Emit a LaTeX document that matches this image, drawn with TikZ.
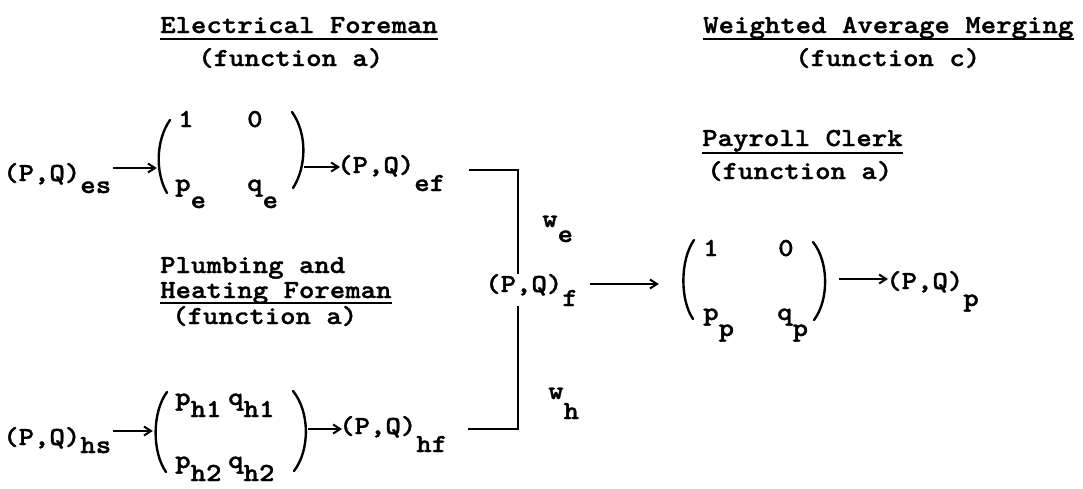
\documentclass[tikz,border=0pt]{standalone}
\usepackage{fontspec}
\newfontfamily\tw{lmmonolt10-bold.otf}[FakeStretch=1.13,FakeBold=1.2]
\usetikzlibrary{arrows.meta}
\newcommand\lw[2]{\raisebox{-#1pt}{#2}}
\begin{document}
\begin{tikzpicture}[x=1pt,y=-1pt,
  txt/.style={inner sep=0pt, anchor=base west, font=\fontsize{26}{25}\tw},
  mbox/.style={inner sep=0pt, draw=none},
  paren/.style={line width=2.4pt, line cap=round},
  link/.style={line width=2.2pt},
  uline/.style={line width=2pt},
  arr/.style={line width=2pt, -{Straight Barb[length=7pt,width=9pt]}}]
\useasboundingbox (0,0) rectangle (1083,488);
\fill[white] (0,0) rectangle (1083,488);

% titles
\node[txt] (t1) at (160,33) {Electrical Foreman};
\draw[uline] ([yshift=-6pt]t1.base west) -- ([yshift=-6pt]t1.base east);
\node[txt] (t1f) at (198,66) {(function a)};
\node[txt] (t3) at (703,33) {Weighted Average Merging};
\draw[uline] ([yshift=-6pt]t3.base west) -- ([yshift=-6pt]t3.base east);
\node[txt] (t3f) at (795,66) {(function c)};
\node[txt] (t4) at (702,146) {Payroll Clerk};
\draw[uline] ([yshift=-7pt]t4.base west) -- ([yshift=-7pt]t4.base east);
\node[txt] (t4f) at (707,179) {(function a)};
\node[txt] (t2a) at (160,273) {Plumbing and};
\node[txt] (t2b) at (160,298) {Heating Foreman};
\draw[uline] ([yshift=-5pt]t2b.base west) -- ([yshift=-5pt]t2b.base east);
\node[txt] (t2f) at (172,324) {(function a)};

% electrical row
\node[txt] (es) at (3,181) {(P,Q)\lw{12}{es}};
\node[mbox, minimum width=147pt, minimum height=83pt] (m1) at (230.5,151.5) {};
\draw[paren] (170,120) .. controls (156,140) and (155,172) .. (167,193);
\draw[paren] (292,112) .. controls (307,133) and (307,166) .. (293,188);
\node[txt] (m1a) at (178,127) {1};
\node[txt] (m1b) at (247,127) {0};
\node[txt] (m1c) at (175,191) {p\lw{17}{e}};
\node[txt] (m1d) at (247,191) {q\lw{17}{e}};
\draw[arr] ([xshift=2pt]es.east |- 0,168) -- (m1.west |- 0,168);
\node[txt] (ef) at (337,173) {(P,Q)\lw{18}{ef}};
\draw[arr] (m1.east |- 0,167) -- ([xshift=3pt]ef.west |- 0,167);

% heating row
\node[txt] (hs) at (3,445) {(P,Q)\lw{8}{hs}};
\node[mbox, minimum width=155pt, minimum height=81pt] (m2) at (230.5,431.5) {};
\draw[paren] (167,392) .. controls (152,412) and (152,452) .. (166,472);
\draw[paren] (293,391) .. controls (310,412) and (310,450) .. (294,471);
\node[txt] (m2a) at (175,405) {p\lw{12}{h1}};
\node[txt] (m2b) at (228,405) {q\lw{12}{h1}};
\node[txt] (m2c) at (175,468) {p\lw{13}{h2}};
\node[txt] (m2d) at (228,468) {q\lw{13}{h2}};
\draw[arr] ([xshift=2pt]hs.east |- 0,431) -- (m2.west |- 0,431);
\node[txt] (hf) at (339,434) {(P,Q)\lw{18}{hf}};
\draw[arr] (m2.east |- 0,429) -- ([xshift=3pt]hf.west |- 0,429);

% merging bracket
\coordinate (efo) at (469,170);
\coordinate (hfo) at (468,429);
\coordinate (ce) at (518,170);
\coordinate (ch) at (518,429);
\draw[link] (efo) -- (ce) -- (ch) -- (hfo);
\node[txt, fill=white] (fF) at (485,292) {(P,Q)\lw{14}{f}};
\node[txt] (we) at (542,227) {w\lw{15}{e}};
\node[txt] (wh) at (548,399) {w\lw{20}{h}};

% payroll
\node[mbox, minimum width=145pt, minimum height=80pt] (m3) at (754.5,280) {};
\draw[paren] (694,240) .. controls (680,260) and (680,300) .. (693,319);
\draw[paren] (813,242) .. controls (829,262) and (829,300) .. (814,320);
\node[txt] (m3a) at (703,256) {1};
\node[txt] (m3b) at (778,256) {0};
\node[txt] (m3c) at (703,320) {p\lw{16}{p}};
\node[txt] (m3d) at (777,320) {q\lw{16}{p}};
\draw[arr] ([xshift=12pt]fF.east |- 0,284) -- ([xshift=-23pt]m3.west |- 0,284);
\node[txt] (pp) at (886,289) {(P,Q)\lw{17}{p}};
\draw[arr] ([xshift=12pt]m3.east |- 0,279) -- ([xshift=2pt]pp.west |- 0,279);
\end{tikzpicture}
\end{document}
